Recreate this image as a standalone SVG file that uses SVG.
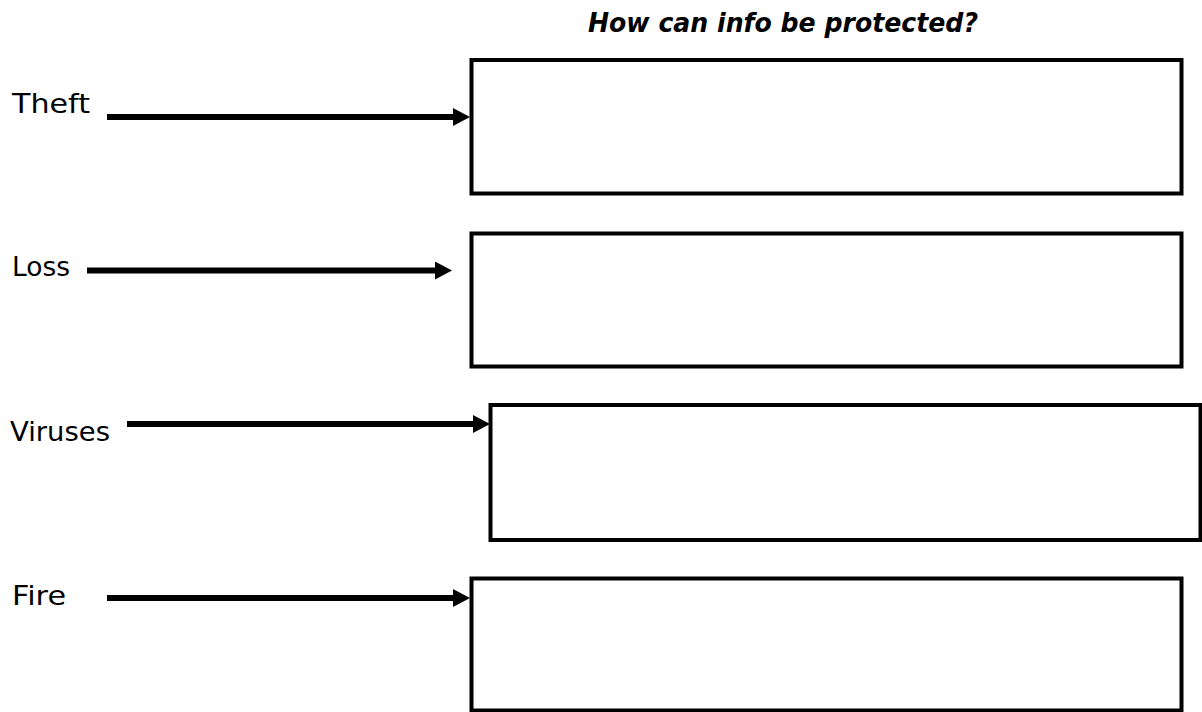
<svg xmlns="http://www.w3.org/2000/svg" width="1202" height="712" viewBox="0 0 1202 712">
  <style>
    .label { font-family: "DejaVu Sans", Verdana, sans-serif; font-size: 27px; fill: #000; }
    .title { font-family: "DejaVu Sans", Verdana, sans-serif; font-size: 26px; font-weight: bold; font-style: italic; fill: #000; }
    .box { fill: #fff; stroke: #000; stroke-width: 4; }
    .wire { stroke: #000; stroke-width: 6; fill: none; }
  </style>
  <defs>
    <marker id="head" markerUnits="userSpaceOnUse" markerWidth="18" markerHeight="18" refX="2" refY="9" orient="auto">
      <path d="M0,0 L17,9 L0,18 Z" fill="#000"/>
    </marker>
  </defs>

  <rect width="1202" height="712" fill="#fff"/>

  <text class="title" x="588" y="32" textLength="390" lengthAdjust="spacingAndGlyphs">How can info be protected?</text>

  <!-- threat labels -->
  <g id="theft"><text class="label" x="12" y="113" textLength="78" lengthAdjust="spacingAndGlyphs">Theft</text></g>
  <g id="loss"><text class="label" x="12" y="276" textLength="58" lengthAdjust="spacingAndGlyphs">Loss</text></g>
  <g id="viruses"><text class="label" x="10" y="441" textLength="100" lengthAdjust="spacingAndGlyphs">Viruses</text></g>
  <g id="fire"><text class="label" x="12" y="605" textLength="54" lengthAdjust="spacingAndGlyphs">Fire</text></g>

  <!-- answer boxes -->
  <g id="box-theft"><rect class="box" x="471.5" y="60" width="710" height="133.5"/></g>
  <g id="box-loss"><rect class="box" x="471.5" y="233.5" width="710" height="133"/></g>
  <g id="box-viruses"><rect class="box" x="490.5" y="405" width="710" height="135"/></g>
  <g id="box-fire"><rect class="box" x="471.5" y="578.5" width="710" height="132"/></g>

  <!-- arrows -->
  <g id="connectors">
    <line class="wire" x1="107" y1="117" x2="455" y2="117" marker-end="url(#head)"/>
    <line class="wire" x1="87" y1="270.5" x2="437" y2="270.5" marker-end="url(#head)"/>
    <line class="wire" x1="127" y1="424" x2="475" y2="424" marker-end="url(#head)"/>
    <line class="wire" x1="107" y1="598" x2="455" y2="598" marker-end="url(#head)"/>
  </g>
</svg>
